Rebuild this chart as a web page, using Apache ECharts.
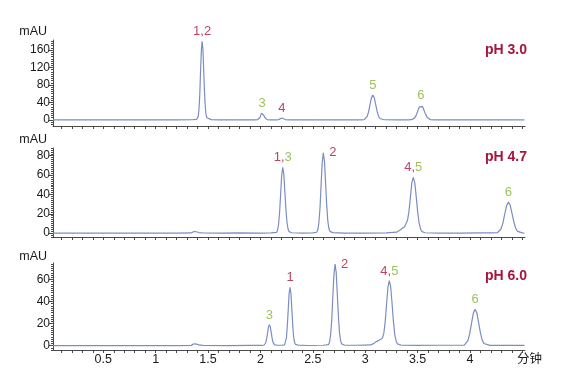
<!DOCTYPE html>
<html><head><meta charset="utf-8">
<script src="https://cdn.jsdelivr.net/npm/echarts@6/dist/echarts.min.js"></script>
<style>html,body{margin:0;padding:0;background:#fff}#c{width:562px;height:372px}</style>
</head><body><div id="c"></div>
<script>
// ---- data (time in min, signal in mAU) ----
const trace1 = [[0.02,0],[0.3,0],[0.6,0],[0.9,0],[1.2,0],[1.35,0.3],[1.39,1],
[1.398,2],[1.406,8],[1.413,24],[1.421,58],[1.428,109],[1.436,159],[1.443,180],[1.451,162],[1.458,115],[1.466,65],[1.473,30],[1.481,12],[1.488,5],[1.5,2],[1.53,0.5],[1.6,0.2],[1.8,0],[1.95,0.1],
[1.972,0.3],[1.987,2.6],[1.995,5.5],[2.002,10.3],[2.01,15],[2.017,17],[2.025,15.2],[2.032,10.8],[2.04,6],[2.047,3],[2.062,0.6],[2.1,0.1],[2.15,0.2],
[2.173,0.6],[2.189,2.7],[2.205,4.5],[2.221,2.9],[2.237,0.8],[2.27,0.1],[2.5,0],[2.8,0],[2.95,0],
[2.991,0.6],[3.005,2.5],[3.018,7.7],[3.032,18.5],[3.045,34.6],[3.059,50.3],[3.072,57],[3.086,51],[3.099,36],[3.113,20],[3.126,9],[3.14,3.2],[3.153,1],[3.18,0.3],[3.3,0],[3.41,0.2],
[3.442,0.4],[3.457,1.5],[3.472,4.6],[3.487,11],[3.502,20.6],[3.517,30],[3.532,34],[3.547,30.5],[3.562,21.5],[3.577,12],[3.592,5.3],[3.607,1.9],[3.622,0.6],[3.66,0.1],[3.8,0],[4.0,0],[4.2,0],[4.52,0]];

const trace2 = [[0.02,0],[0.4,0],[0.8,0],[1.2,0],[1.34,0.2],[1.35,0.5],[1.365,1.6],[1.376,2.2],[1.39,1.4],[1.41,0.6],[1.45,0.2],[1.6,0],[1.8,0.3],[2.0,0],[2.1,0.2],
[2.153,0.7],[2.163,3],[2.173,9.2],[2.183,22],[2.193,41],[2.203,60],[2.213,68],[2.223,61],[2.233,43],[2.243,25],[2.253,11.5],[2.263,4.5],[2.273,1.5],[2.3,0.4],[2.4,0.1],[2.5,0.2],
[2.537,0.9],[2.548,3.7],[2.558,11.2],[2.569,27],[2.579,50.4],[2.59,73.2],[2.6,83],[2.611,74.5],[2.621,53],[2.632,30],[2.642,13.5],[2.653,5],[2.663,1.8],[2.69,0.5],[2.8,0],[3.0,0],[3.2,0.3],
[3.3,1],[3.33,3],[3.355,5],[3.375,6.5],[3.389,8.5],[3.403,13],[3.417,22],[3.431,37],[3.445,52],[3.459,57.7],[3.473,52],[3.487,37.5],[3.501,21.5],[3.515,10],[3.529,4],[3.543,1.5],[3.57,0.4],[3.7,0],[3.9,0],[4.1,0.2],[4.2,0.3],
[4.261,0.4],[4.279,1.4],[4.296,4.3],[4.314,10.4],[4.331,19.4],[4.349,28.2],[4.366,32],[4.384,28.8],[4.401,20.5],[4.419,11.5],[4.436,5],[4.454,1.8],[4.471,0.6],[4.5,0.2],[4.52,0]];

const trace3 = [[0.02,0],[0.4,0],[0.8,0],[1.2,0],[1.34,0.2],[1.35,0.5],[1.365,1.6],[1.376,2.2],[1.39,1.4],[1.41,0.6],[1.45,0.2],[1.7,0],[1.9,0.2],[2.0,0.2],
[2.034,0.3],[2.051,2.6],[2.059,6.2],[2.068,11.5],[2.076,16.8],[2.085,19],[2.094,17],[2.102,12.3],[2.111,7],[2.119,3.2],[2.136,0.6],[2.16,0.3],[2.2,0.3],
[2.231,0.6],[2.239,2.3],[2.248,7.2],[2.256,17.2],[2.265,32.2],[2.273,46.7],[2.282,53],[2.291,47.5],[2.299,34],[2.308,19],[2.316,8.5],[2.325,3.2],[2.333,1.1],[2.36,0.4],[2.45,0.1],[2.6,0.3],
[2.649,0.8],[2.66,3.3],[2.67,10],[2.681,24],[2.691,45],[2.702,65.3],[2.712,74],[2.723,66.5],[2.733,47.5],[2.744,27],[2.754,12],[2.765,4.5],[2.775,1.6],[2.8,0.5],[2.9,0.3],[3.0,0.5],
[3.05,0.6],[3.08,1.8],[3.1,3.3],[3.125,4.5],[3.145,5.5],[3.165,7],[3.178,11.5],[3.191,22],[3.204,38],[3.217,53],[3.23,59],[3.243,53.5],[3.256,38.5],[3.269,22],[3.282,10],[3.295,4],[3.308,1.5],[3.34,0.5],[3.5,0.2],[3.7,0.3],[3.9,0.3],
[3.946,0.4],[3.963,1.5],[3.98,4.5],[3.997,10.7],[4.014,20],[4.031,29.1],[4.048,33],[4.065,29.7],[4.082,21],[4.099,11.8],[4.116,5.2],[4.133,1.9],[4.15,0.6],[4.19,0.2],[4.3,0.2],[4.52,0.2]];

const peakNames1 = ['1,2','3','4','5','6'];
const peakTimes1 = [1.443, 2.017, 2.205, 3.072, 3.532];
const peakHeights1 = [180, 17, 4.5, 57, 34];

const peakNames2 = ['1,3','2','4,5','6'];
const peakTimes2 = [2.213, 2.600, 3.459, 4.366];
const peakHeights2 = [68, 83, 57.7, 32];

const peakNames3 = ['3','1','2','4,5','6'];
const peakTimes3 = [2.085, 2.282, 2.712, 3.230, 4.048];
const peakHeights3 = [19, 53, 74, 59, 33];

const panelTitles = ['pH 3.0','pH 4.7','pH 6.0'];
const yLabels1 = [0,40,80,120,160];
const yLabels2 = [0,20,40,60,80];
const yLabels3 = [0,20,40,60];
const xLabels = [0.5,1,1.5,2,2.5,3,3.5,4];
const xUnit = '分钟';
const yUnit = 'mAU';
const redCompounds = ['1','2','4'];

// ---- styles / layout ----
const RED = '#a8143a', GREEN = '#86b236', LINE = '#7b8ec4', AXIS = '#4a4a4a', TXT = '#1a1a1a';
const FONT = "'Liberation Sans', Arial, 'Noto Sans CJK SC', sans-serif";
const xMin = 0.02, xMax = 4.525;
const panels = [
  {top:40, height:86, min:-14, max:183, nameGap:2, minorStep:5, labels:yLabels1, trace:trace1, pn:peakNames1, pt:peakTimes1, ph:peakHeights1, titleTop:43},
  {top:148, height:89, min:-4, max:88, nameGap:2, minorStep:2, labels:yLabels2, trace:trace2, pn:peakNames2, pt:peakTimes2, ph:peakHeights2, titleTop:150},
  {top:263, height:87, min:-4, max:75, nameGap:0, minorStep:2, labels:yLabels3, trace:trace3, pn:peakNames3, pt:peakTimes3, ph:peakHeights3, titleTop:269}
];
const xTicks = [];
for (let k = 1; k <= 45; k++) xTicks.push(Math.round(k * 10) / 100);

function richName(name) {
  const parts = name.split(',');
  return parts.map((p, i) => '{' + (redCompounds.includes(p) ? 'r' : 'g') + '|' + p + (i < parts.length - 1 ? ',' : '') + '}').join('');
}

const grid = [], xAxis = [], yAxis = [], series = [], title = [];
panels.forEach((P, i) => {
  grid.push({left:53, right:37, top:P.top, height:P.height});
  xAxis.push({
    gridIndex:i, type:'value', min:xMin, max:xMax,
    axisLine:{onZero:false, lineStyle:{color:AXIS, width:1}},
    axisTick:{show:true, customValues:xTicks, length:3, lineStyle:{color:AXIS}},
    axisLabel:{show:i===2, customValues:xLabels, margin:3, fontSize:12.5, color:TXT, fontFamily:FONT},
    splitLine:{show:false},
    name: i===2 ? xUnit : '', nameLocation:'end', nameGap:-8,
    nameTextStyle:{align:'left', verticalAlign:'top', padding:[3,0,0,0], fontSize:12.5, color:TXT, fontFamily:FONT}
  });
  const minor = [];
  for (let v = Math.ceil(P.min / P.minorStep) * P.minorStep; v <= P.max; v += P.minorStep) minor.push(v);
  yAxis.push({
    gridIndex:i, type:'value', min:P.min, max:P.max, position:'left',
    axisLine:{show:true, onZero:false, lineStyle:{color:AXIS, width:1}},
    axisTick:{show:true, customValues:P.labels, length:4, lineStyle:{color:AXIS}},
    axisLabel:{customValues:P.labels, margin:3, fontSize:12, color:TXT, fontFamily:FONT},
    splitLine:{show:false},
    name:yUnit, nameLocation:'end', nameGap:P.nameGap,
    nameTextStyle:{align:'right', padding:[0,6,0,0], fontSize:12.5, color:TXT, fontFamily:FONT}
  });
  yAxis.push({
    gridIndex:i, type:'value', min:P.min, max:P.max, position:'left',
    axisLine:{show:false},
    axisTick:{show:true, customValues:minor, length:2, lineStyle:{color:AXIS}},
    axisLabel:{show:false}, splitLine:{show:false}
  });
  series.push({
    type:'line', xAxisIndex:i, yAxisIndex:2*i, data:P.trace,
    symbol:'none', smooth:false, silent:true,
    lineStyle:{color:LINE, width:1.2}
  });
  series.push({
    type:'scatter', xAxisIndex:i, yAxisIndex:2*i, symbolSize:0, silent:true,
    data:P.pt.map((t, j) => ({
      value:[t, P.ph[j]], name:P.pn[j],
      label: P.pn[j] === '2' ? {position:'right', distance:6} : {position:'top', distance:3}
    })),
    label:{show:true, formatter:p => richName(p.name),
      rich:{r:{color:RED, fontSize:13, fontFamily:FONT}, g:{color:GREEN, fontSize:13, fontFamily:FONT}}}
  });
  title.push({text:panelTitles[i], right:35, top:P.titleTop, padding:0,
    textStyle:{color:RED, fontSize:14, fontWeight:'bold', fontFamily:FONT}});
});

const chart = echarts.init(document.getElementById('c'), null, {renderer:'canvas'});
chart.setOption({animation:false, backgroundColor:'#fff', textStyle:{fontFamily:FONT}, title, grid, xAxis, yAxis, series});
</script>
</body></html>
